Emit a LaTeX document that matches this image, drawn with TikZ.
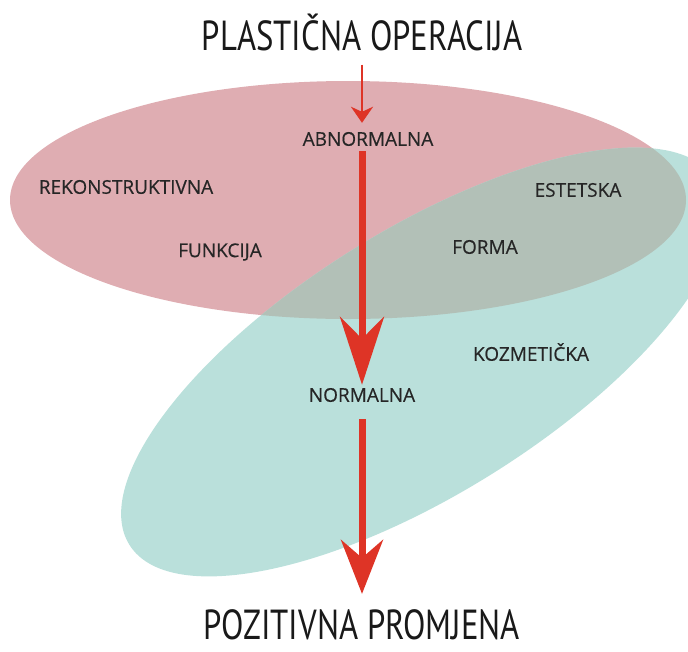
\documentclass[tikz,border=0pt]{standalone}
\usepackage{fontspec}
\setmainfont{Open Sans}
\newfontfamily\labelfont[FakeBold=0.4]{Open Sans}
\newfontfamily\titlefont[FakeStretch=0.78]{PT Sans}
\usetikzlibrary{arrows.meta}
\definecolor{rekpink}{RGB}{223,173,178}
\definecolor{kozgreen}{RGB}{186,224,219}
\definecolor{formgray}{RGB}{178,192,183}
\definecolor{arrowred}{RGB}{222,52,38}
\tikzset{
  label/.style={font=\labelfont\fontsize{19}{19}\selectfont, text=black!85, inner sep=1pt},
  heading/.style={font=\titlefont\fontsize{42}{42}\selectfont, text=black!90, inner sep=0pt, anchor=base},
  flow/.style={draw=arrowred, line width=7pt},
}
% outlines of the two fields
\def\pinkfield{(348,200) ellipse [x radius=338, y radius=119]}
\def\greenfield{[rotate around={32:(422,362)}] (422,362) ellipse [x radius=345, y radius=132]}
\begin{document}
\begin{tikzpicture}[x=1pt, y=-1pt]
  \useasboundingbox (0,0) rectangle (688,651);
  % the two fields
  \fill[rekpink] \pinkfield;
  \fill[kozgreen] \greenfield;
  \begin{scope}
    \clip \pinkfield;
    \fill[formgray] \greenfield;
  \end{scope}
  % texts
  \node[heading] (start) at (362,50) {PLASTIČNA OPERACIJA};
  \node[heading] (end) at (362,639) {POZITIVNA PROMJENA};
  \node[label] (abn) at (368,139) {ABNORMALNA};
  \node[label] (norm) at (362,395) {NORMALNA};
  \node[label] (rek) at (126,187) {REKONSTRUKTIVNA};
  \node[label] (fun) at (220,252) {FUNKCIJA};
  \node[label] (est) at (578,190) {ESTETSKA};
  \node[label] (for) at (485,247) {FORMA};
  \node[label] (koz) at (531,352) {KOZMETIČKA};
  % the path
  \draw[draw=arrowred, line width=2.5pt, -{Stealth[length=16pt, width=22pt, inset=5pt]}]
    ([yshift=-14pt]start.south -| norm.north) -- ([yshift=8pt]abn.north -| norm.north);
  \draw[flow, -{Stealth[length=68pt, width=44pt, inset=22pt]}]
    ([yshift=-4pt]abn.south -| norm.north) -- ([yshift=2pt]norm.north);
  \draw[flow, -{Stealth[length=54pt, width=42pt, inset=18pt]}]
    ([yshift=-16pt]norm.south) -- ([yshift=15pt]end.north);
\end{tikzpicture}
\end{document}
